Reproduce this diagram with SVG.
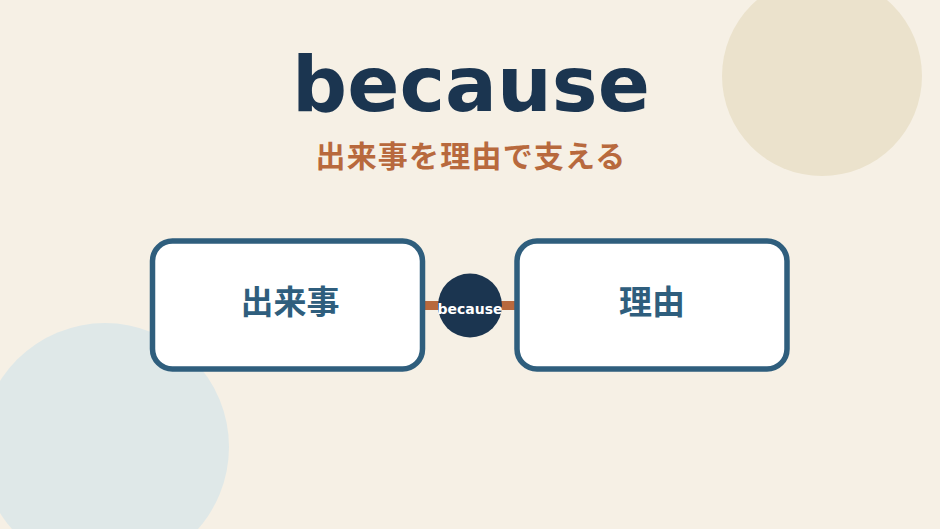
<svg xmlns="http://www.w3.org/2000/svg" width="940" height="529" viewBox="0 0 940 529">
  <style>
    .bg { fill: #f6f0e5; }
    .box { fill: #ffffff; stroke: #2f5e7d; stroke-width: 5.5; }
    .nodetext { font-family: "Noto Sans CJK JP", "DejaVu Sans", sans-serif; font-weight: bold; font-size: 33px; fill: #2f5e7d; text-anchor: middle; }
    .title { font-family: "DejaVu Sans", sans-serif; font-weight: bold; font-size: 77px; fill: #1b3550; text-anchor: middle; }
    .subtitle { font-family: "Noto Sans CJK JP", sans-serif; font-weight: bold; font-size: 30px; letter-spacing: 1.2px; fill: #b8693d; text-anchor: middle; }
    .conn { stroke: #b8693d; stroke-width: 9; fill: none; }
    .hub { fill: #1b3550; }
    .hubtext { font-family: "DejaVu Sans", sans-serif; font-weight: bold; font-size: 14px; fill: #ffffff; text-anchor: middle; }
  </style>
  <rect class="bg" x="0" y="0" width="940" height="529"/>
  <circle cx="822" cy="76" r="100" fill="#ebe2cc"/>
  <circle cx="105" cy="447" r="124" fill="#dfe8e8"/>
  <text class="title" x="471" y="111">because</text>
  <text class="subtitle" x="471" y="167">出来事を理由で支える</text>
  <g id="connectors">
    <line class="conn" x1="424" y1="305.5" x2="516" y2="305.5"/>
  </g>
  <g id="node-event">
    <rect class="box" x="152.5" y="241" width="270" height="128" rx="20"/>
    <text class="nodetext" x="290" y="314">出来事</text>
  </g>
  <g id="node-reason">
    <rect class="box" x="517" y="241" width="270" height="128" rx="20"/>
    <text class="nodetext" x="652" y="314">理由</text>
  </g>
  <g id="node-because">
    <circle class="hub" cx="470" cy="305.5" r="32"/>
    <text class="hubtext" x="470" y="314">because</text>
  </g>
</svg>
